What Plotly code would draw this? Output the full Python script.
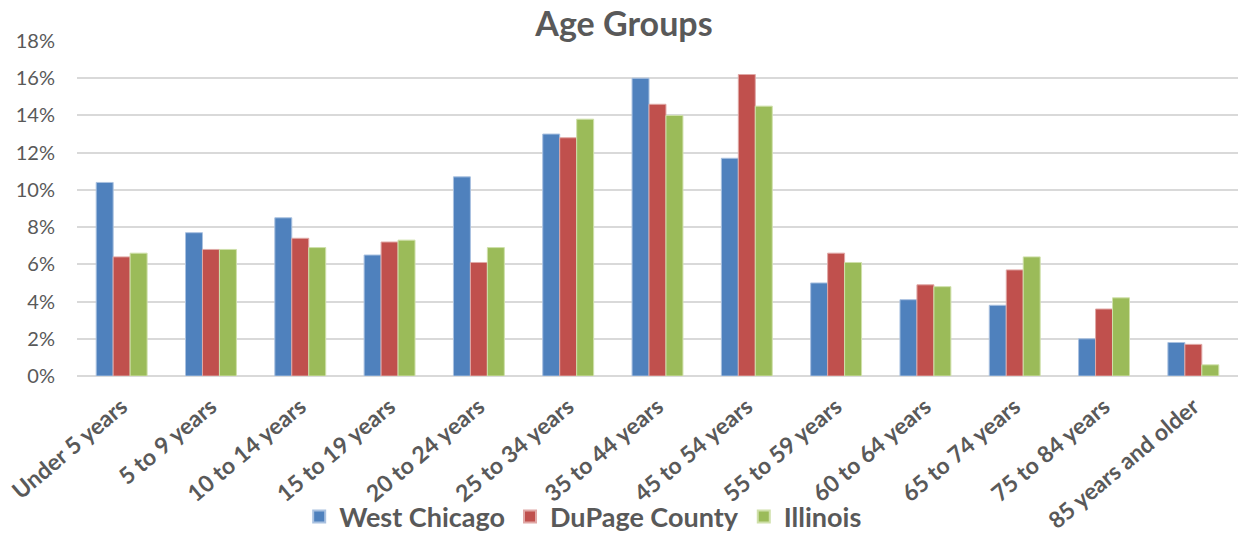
import plotly.graph_objects as go

categories = ["Under 5 years", "5 to 9 years", "10 to 14 years", "15 to 19 years",
              "20 to 24 years", "25 to 34 years", "35 to 44 years", "45 to 54 years",
              "55 to 59 years", "60 to 64 years", "65 to 74 years", "75 to 84 years",
              "85 years and older"]
west_chicago = [10.4, 7.7, 8.5, 6.5, 10.7, 13.0, 16.0, 11.7, 5.0, 4.1, 3.8, 2.0, 1.8]
dupage_county = [6.4, 6.8, 7.4, 7.2, 6.1, 12.8, 14.6, 16.2, 6.6, 4.9, 5.7, 3.6, 1.7]
illinois = [6.6, 6.8, 6.9, 7.3, 6.9, 13.8, 14.0, 14.5, 6.1, 4.8, 6.4, 4.2, 0.6]
y_ticks = [0, 2, 4, 6, 8, 10, 12, 14, 16, 18]
y_tick_labels = [f"{v}%" for v in y_ticks]

series = [
    ("West Chicago", west_chicago, "#4F81BD", "#a9c1e0"),
    ("DuPage County", dupage_county, "#C0504D", "#e0a8a6"),
    ("Illinois", illinois, "#9BBB59", "#cfe0aa"),
]

fig = go.Figure()
for name, vals, color, edge in series:
    fig.add_trace(go.Bar(
        x=categories, y=vals, name=name,
        marker=dict(color=color, line=dict(color=edge, width=1)),
    ))

FONT = "Lato"
GRAY = "#595959"

fig.update_layout(
    width=1238, height=533,
    margin=dict(l=77, r=0, t=41, b=157, autoexpand=False),
    paper_bgcolor="white", plot_bgcolor="white",
    barmode="group", bargap=0.43, bargroupgap=0,
    title=dict(text="<b>Age Groups</b>", x=0.504, xref="container", xanchor="center",
               y=0.955, yref="container", yanchor="middle",
               font=dict(family=FONT, size=34, color=GRAY)),
    legend=dict(orientation="h", x=0.436, xanchor="center", y=-0.421, yanchor="middle",
                font=dict(family=FONT, size=27, color=GRAY, weight="bold"),
                bgcolor="rgba(0,0,0,0)", itemsizing="constant"),
    showlegend=True,
)
fig.update_yaxes(range=[0, 18], tickvals=y_ticks, ticktext=y_tick_labels,
                 showgrid=True, gridcolor="#d9d9d9", gridwidth=1.5,
                 zeroline=True, zerolinecolor="#d9d9d9", zerolinewidth=1.5,
                 showline=False, ticks="", ticklen=0, ticklabelstandoff=21,
                 automargin=False,
                 tickfont=dict(family=FONT, size=20, color=GRAY), fixedrange=True)
fig.update_xaxes(tickangle=-40, showline=False, ticks="", ticklabelstandoff=12,
                 automargin=False,
                 tickfont=dict(family=FONT, size=23, color=GRAY, weight="bold"),
                 fixedrange=True)

fig.write_html("out.html", config={"displayModeBar": False})
